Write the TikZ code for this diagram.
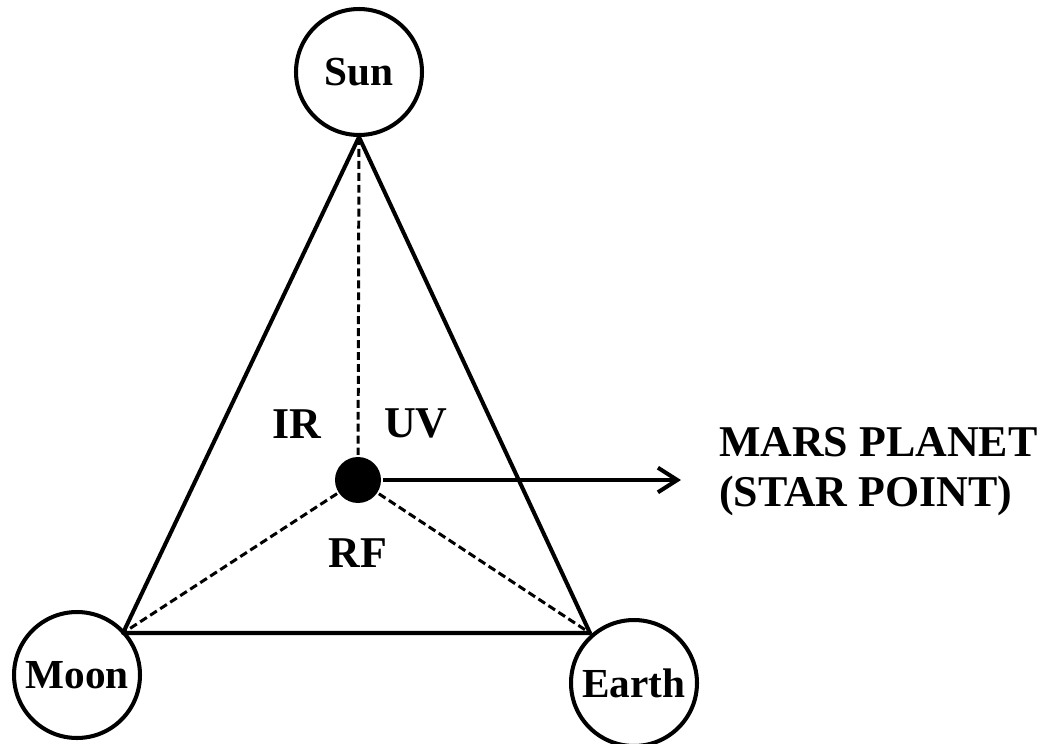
\documentclass[tikz,border=0pt]{standalone}
\usepackage{fontspec}
\setmainfont{Liberation Serif}
\usetikzlibrary{arrows.meta}
\begin{document}
\begin{tikzpicture}[x=0.02cm, y=-0.02cm, line width=2.3pt,
    body/.style={draw, circle, minimum size=2.52cm, inner sep=0pt, font=\fontsize{23.5}{28}\selectfont\bfseries},
    band/.style={font=\fontsize{25}{30}\selectfont\bfseries},
    ray/.style={line width=1.7pt, dash pattern=on 4.5pt off 2.3pt}]
    \useasboundingbox (0,0) rectangle (1049,744);
    % Các thiên thể
    \node[body] (sun) at (359,72) {Sun};
    \node[body] (moon) at (77,675) {Moon};
    \node[body] (earth) at (634,683) {Earth};
    \node[fill, circle, minimum size=0.92cm, inner sep=0pt] (mars) at (358,480) {};

    % Các đỉnh tam giác
    \coordinate (top) at (sun.south);
    \coordinate (left) at (123,633);
    \coordinate (right) at (590,633);
    \coordinate (tip) at (681,480);

    % Tam giác
    \draw[line join=round] (top) -- (left) -- (right) -- cycle;

    % Các đường nét đứt
    \draw[ray] (top) -- (mars);
    \draw[ray] (mars) -- (left);
    \draw[ray] (mars) -- (right);

    % Mũi tên
    \draw[-{Straight Barb[length=11pt, width=14pt, line width=2.3pt]}] (mars) -- (tip);

    % Nhãn
    \node[band] (ir) at (297,424) {IR};
    \node[band] (uv) at (416,423) {UV};
    \node[band] (rf) at (358,553) {RF};
    \node[band, font=\fontsize{25}{28.5}\selectfont\bfseries, anchor=west, align=left, inner sep=0pt] (label) at (717,472) {MARS PLANET\\(STAR POINT)};
\end{tikzpicture}
\end{document}
